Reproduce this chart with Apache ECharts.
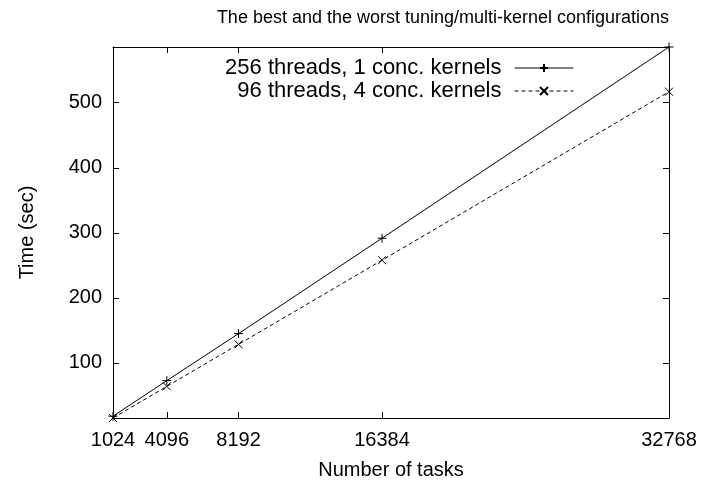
<!DOCTYPE html>
<html>
<head>
<meta charset="utf-8">
<script src="https://cdn.jsdelivr.net/npm/echarts@6/dist/echarts.min.js"></script>
<style>
html,body{margin:0;padding:0;background:#fff;}
#c{width:704px;height:485px;}
</style>
</head>
<body>
<div id="c"></div>
<script>
// ---- data ----
const tasks = [1024, 4096, 8192, 16384, 32768];
const seriesNames = ['256 threads, 1 conc. kernels', '96 threads, 4 conc. kernels'];
const best = [18.2, 72.8, 145.1, 291.7, 585.6];
const worst = [15.4, 64.0, 128.6, 257.9, 516.9];
const xTicks = [1024, 4096, 8192, 16384, 32768];
const yTicks = [100, 200, 300, 400, 500];
const titleText = 'The best and the worst tuning/multi-kernel configurations';
const xName = 'Number of tasks';
const yName = 'Time (sec)';

const FONT = '"Liberation Sans", Arial, sans-serif';
const allY = best.concat(worst);
const yMin = Math.min.apply(null, allY);
const yMax = Math.max.apply(null, allY);

const plusPath = 'path://M0,5L10,5M5,0L5,10';
const crossPath = 'path://M0,0L10,10M10,0L0,10';

const chart = echarts.init(document.getElementById('c'), null, {renderer: 'canvas'});
const axisLine = {show: true, onZero: false, lineStyle: {color: '#000', width: 1}};
const tickStyle = {color: '#000', width: 1};
const plain = v => String(Math.round(v));

chart.setOption({
  animation: false,
  backgroundColor: '#fff',
  title: {
    text: titleText,
    left: 438, top: 4, textAlign: 'center',
    textStyle: {fontFamily: FONT, fontSize: 18, fontWeight: 'normal', color: '#000'}
  },
  grid: {left: 113, right: 35, top: 47, bottom: 67, show: false},
  legend: [
    {
      data: [seriesNames[0]], right: 125, top: 52, align: 'right', orient: 'vertical',
      itemWidth: 59, itemHeight: 10,
      lineStyle: {width: 1},
      textStyle: {fontFamily: FONT, fontSize: 22, color: '#000', padding: [0, 8, 0, 0]}
    },
    {
      data: [seriesNames[1]], right: 125, top: 75, align: 'right', orient: 'vertical',
      itemWidth: 59, itemHeight: 10,
      lineStyle: {width: 1},
      textStyle: {fontFamily: FONT, fontSize: 22, color: '#000', padding: [0, 8, 0, 0]}
    }
  ],
  xAxis: [
    {
      type: 'value', position: 'bottom', min: xTicks[0], max: xTicks[xTicks.length - 1],
      axisLine: axisLine,
      axisTick: {show: true, inside: true, length: 6, lineStyle: tickStyle, customValues: xTicks},
      axisLabel: {show: true, customValues: xTicks, formatter: plain, fontFamily: FONT, fontSize: 20, color: '#000', margin: 12},
      splitLine: {show: false},
      name: xName, nameLocation: 'middle', nameGap: 42,
      nameTextStyle: {fontFamily: FONT, fontSize: 20, color: '#000'}
    },
    {
      type: 'value', position: 'top', min: xTicks[0], max: xTicks[xTicks.length - 1],
      axisLine: axisLine,
      axisTick: {show: true, inside: true, length: 6, lineStyle: tickStyle, customValues: xTicks},
      axisLabel: {show: false},
      splitLine: {show: false}
    }
  ],
  yAxis: [
    {
      type: 'value', position: 'left', min: yMin, max: yMax,
      axisLine: axisLine,
      axisTick: {show: true, inside: true, length: 6, lineStyle: tickStyle, customValues: yTicks},
      axisLabel: {show: true, customValues: yTicks, formatter: plain, fontFamily: FONT, fontSize: 20, color: '#000', margin: 11},
      splitLine: {show: false},
      name: yName, nameLocation: 'middle', nameGap: 76, nameRotate: 90,
      nameTextStyle: {fontFamily: FONT, fontSize: 20, color: '#000'}
    },
    {
      type: 'value', position: 'right', min: yMin, max: yMax,
      axisLine: axisLine,
      axisTick: {show: true, inside: true, length: 6, lineStyle: tickStyle, customValues: yTicks},
      axisLabel: {show: false},
      splitLine: {show: false}
    }
  ],
  series: [
    {
      name: seriesNames[0], type: 'line',
      data: tasks.map((t, i) => [t, best[i]]),
      symbol: plusPath, symbolSize: 9,
      itemStyle: {color: 'rgba(0,0,0,0)', borderColor: '#000', borderWidth: 1},
      lineStyle: {color: '#000', width: 1, type: 'solid'},
      emphasis: {disabled: true}
    },
    {
      name: seriesNames[1], type: 'line',
      data: tasks.map((t, i) => [t, worst[i]]),
      symbol: crossPath, symbolSize: 8,
      itemStyle: {color: 'rgba(0,0,0,0)', borderColor: '#000', borderWidth: 1},
      lineStyle: {color: '#000', width: 1, type: [4, 3]},
      emphasis: {disabled: true}
    }
  ]
});
</script>
</body>
</html>
